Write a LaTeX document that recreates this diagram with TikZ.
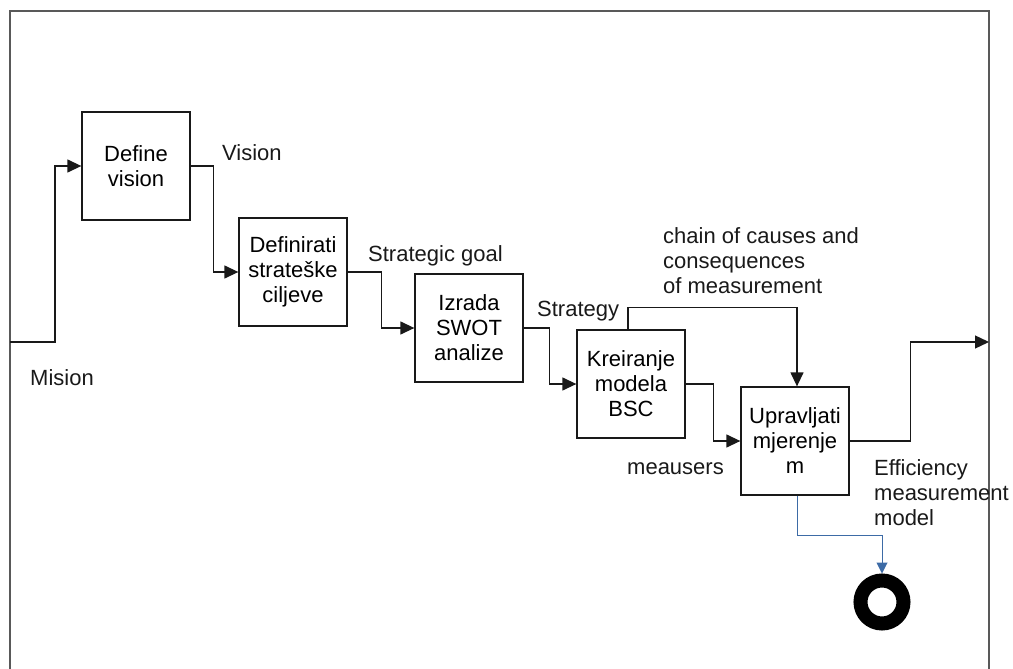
\documentclass[tikz,border=0pt]{standalone}
\usepackage{fontspec}
\setmainfont{Liberation Sans}
\usetikzlibrary{arrows.meta,positioning}
\definecolor{linecolor}{rgb}{0.1, 0.1, 0.1}
\definecolor{framecolor}{rgb}{0.35, 0.35, 0.35}
\definecolor{flowblue}{rgb}{0.24, 0.42, 0.65}
\tikzset{
	block/.style={
		rectangle,
		draw=linecolor,
		line width=1.3pt,
		fill=white,
		minimum width=108pt,
		minimum height=108pt,
		inner sep=0pt,
		align=center,
		font=\fontsize{22}{25}\selectfont
	},
	flow/.style={
		draw=linecolor,
		line width=1.3pt,
		-{Triangle[length=14pt,width=13pt]}
	},
	blueflow/.style={
		draw=flowblue,
		line width=1pt,
		-{Triangle[length=11pt,width=11pt]}
	},
	lbl/.style={
		inner sep=0pt,
		anchor=base west,
		align=left,
		text=linecolor,
		font=\fontsize{22}{25}\selectfont
	},
	frame/.style={
		draw=framecolor,
		line width=1.6pt
	},
	stop/.style={
		circle,
		draw=black,
		line width=14pt,
		minimum size=43pt,
		inner sep=0pt
	}
}

\begin{document}
\begin{tikzpicture}[x=1pt,y=-1pt]
\useasboundingbox (0,0) rectangle (1013,669);
% outer frame
\draw[frame] (10,669) -- (10,11) -- (989,11) -- (989,669);
\coordinate (mis) at (10,342);
\coordinate (out) at (989,342);

% steps
\node [block] (dv) at (136,166) {Define\\vision};
\node [block] (ds) [below right=106pt and 157pt of dv.center, anchor=center] {Definirati\\strateške\\ciljeve};
\node [block] (sw) [below right=56pt and 176pt of ds.center, anchor=center] {Izrada\\SWOT\\analize};
\node [block] (bsc) [below right=56pt and 162pt of sw.center, anchor=center] {Kreiranje\\modela\\BSC};
\node [block] (um) [below right=57pt and 164pt of bsc.center, anchor=center] {Upravljati\\mjerenje\\m};
\node [stop] (end) at (882,602) {};

% labels (base = last line)
\node [lbl] (lmis) at (30,385) {Mision};
\node [lbl] (lvis) at (222,160) {Vision};
\node [lbl] (lgoal) at (368,261) {Strategic goal};
\node [lbl] (lstr) at (537,316) {Strategy};
\node [lbl] (lchain) at (663,293) {chain of causes and\\consequences\\of measurement};
\node [lbl] (lmeas) at (627,474) {meausers};
\node [lbl] (leff) at (874,525) {Efficiency\\measurement\\model};

% connectors
\draw[flow] (mis) -- ++(45,0) |- (dv);
\draw[flow] (dv.east) -- ++(23,0) |- (ds);
\draw[flow] (ds.east) -- ++(34,0) |- (sw);
\draw[flow] (sw.east) -- ++(26,0) |- (bsc);
\draw[flow] (bsc.east) -- ++(28,0) |- (um);
\draw[flow] ([xshift=-3pt]bsc.north) -- ++(0,-22) -| ([xshift=2pt]um.north);
\draw[flow] (um.east) -- ++(61,0) |- (out);
\draw[blueflow] ([xshift=2pt]um.south) -- ++(0,40) -| (end);
\end{tikzpicture}
\end{document}
